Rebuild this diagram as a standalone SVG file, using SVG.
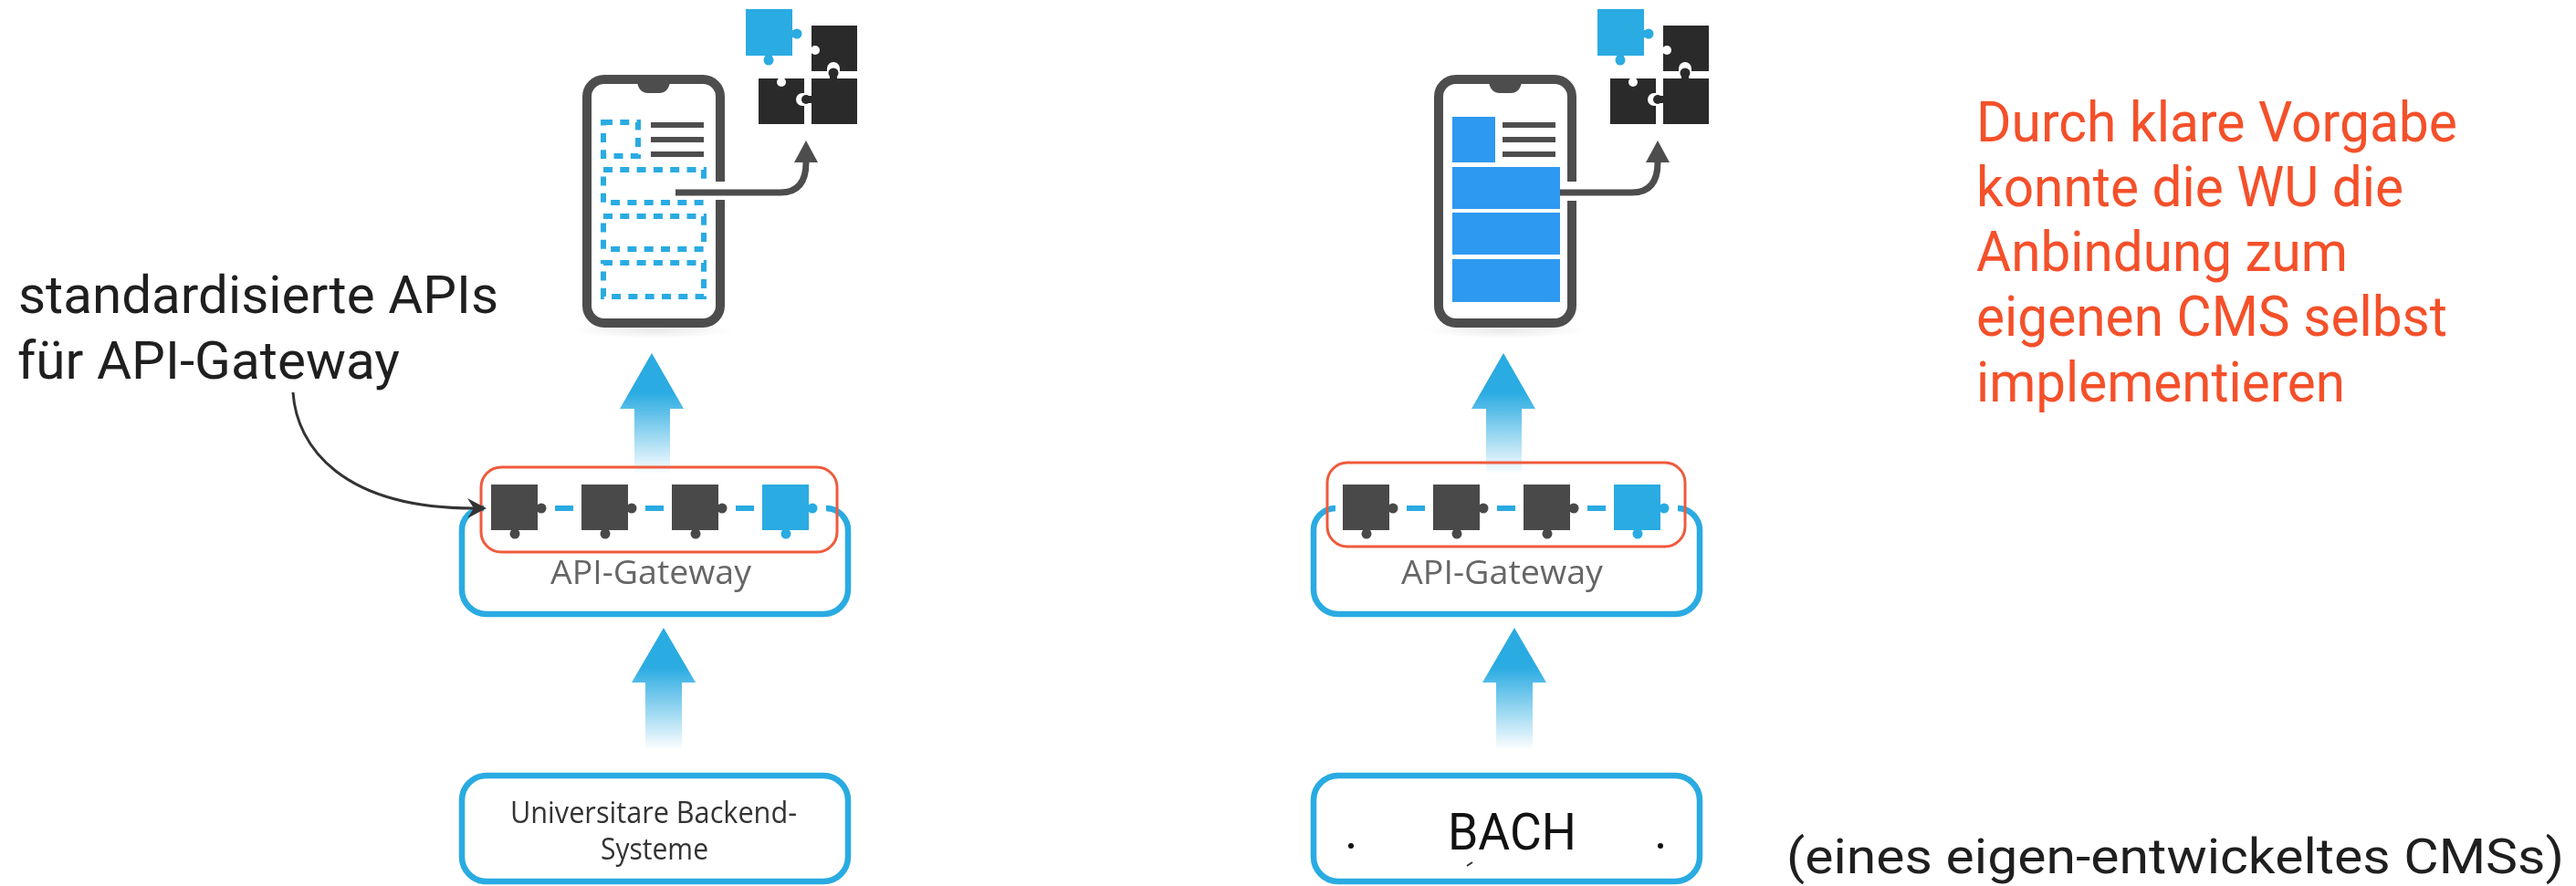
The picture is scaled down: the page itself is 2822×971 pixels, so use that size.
<svg xmlns="http://www.w3.org/2000/svg" width="2822" height="971" viewBox="0 0 2822 971">
<style>
.rb{font-family:"Roboto","Liberation Sans",sans-serif}
.os{font-family:"Open Sans","Liberation Sans",sans-serif}
.blk{fill:#1f1f1f;font-size:58px}
.red{fill:#f4502a;font-size:61px}
.gw{fill:#666;font-size:37px}
.be{fill:#333;font-size:33px}
.box{fill:none;stroke:#29abe2;stroke-width:6.5}
.hl{fill:none;stroke:#ef5a3c;stroke-width:3}
.dash{fill:none;stroke:#29abe2;stroke-width:6;stroke-dasharray:10 8.3}
.solid{fill:#2e99f0}
.dk{fill:#4a4a4a}
.nearblack{fill:#2b2b2b}
.bl{fill:#29abe2}
.wh{fill:#fff}
.lead{fill:none;stroke:#4d4d4d;stroke-width:7}
.call{fill:none;stroke:#333;stroke-width:3}
.soft{filter:url(#soft)}
</style>
<defs>
<filter id="soft" x="-5%" y="-5%" width="110%" height="110%"><feGaussianBlur stdDeviation="0.6"/></filter>
<linearGradient id="fade" x1="0" y1="0" x2="0" y2="1">
<stop offset="0.32" stop-color="#29abe2"/><stop offset="1" stop-color="#29abe2" stop-opacity="0"/>
</linearGradient>
<radialGradient id="shadow"><stop offset="0" stop-color="#e9e9e9"/><stop offset="1" stop-color="#fff"/></radialGradient>
<marker id="headUp" markerUnits="userSpaceOnUse" markerWidth="26" markerHeight="26" refX="0" refY="13" orient="auto"><path d="M0 0L24 13L0 26Z" fill="#4d4d4d"/></marker>
<marker id="headCall" markerUnits="userSpaceOnUse" markerWidth="22" markerHeight="24" refX="7" refY="12" orient="auto"><path d="M0 1L21 12L0 23L7 12Z" fill="#333"/></marker>
<g id="frame">
<ellipse cx="716" cy="362" rx="88" ry="9" fill="url(#shadow)"/>
<rect x="643" y="87" width="146" height="267" rx="19" fill="#fff" stroke="#4d4d4d" stroke-width="10"/>
<path d="M698 90H734Q732 102 722 102H710Q700 102 698 90Z" fill="#4d4d4d"/>
<rect x="713" y="134" width="58" height="6" fill="#4d4d4d"/>
<rect x="713" y="150" width="58" height="6" fill="#4d4d4d"/>
<rect x="713" y="166" width="58" height="6" fill="#4d4d4d"/>
</g>
<g id="puzzle">
<g class="bl"><rect x="817" y="10" width="51" height="51"/><circle cx="873" cy="37" r="5.5"/><rect x="866" y="33" width="6" height="8"/><circle cx="842" cy="66" r="5.5"/><rect x="838" y="60" width="8" height="5"/></g>
<g class="nearblack">
<rect x="889" y="28" width="50" height="50"/>
<rect x="889" y="86" width="50" height="50"/>
<rect x="831" y="86" width="50" height="50"/>
</g>
<g class="wh"><circle cx="893" cy="55" r="5"/><rect x="888" y="52" width="5" height="6"/><circle cx="913" cy="75" r="7"/><rect x="906" y="75" width="14" height="4"/><circle cx="856" cy="90" r="5"/><rect x="853" y="85" width="6" height="5"/><circle cx="879" cy="109" r="7"/><rect x="879" y="102" width="3" height="14"/></g>
<g class="nearblack"><circle cx="913" cy="80" r="5.5"/><rect x="909" y="80" width="8" height="7"/><circle cx="883" cy="109" r="5"/><rect x="883" y="105" width="7" height="8"/></g>
</g>
<g id="pieces">
<g class="dk" id="p3"><rect x="538" y="531" width="51" height="50"/><circle cx="593" cy="557" r="5.5"/><rect x="587" y="553" width="5" height="8"/><circle cx="564" cy="585" r="5.5"/><rect x="560" y="580" width="8" height="5"/></g>
<use href="#p3" x="99"/><use href="#p3" x="198"/>
<g class="bl"><rect x="835" y="531" width="51" height="50"/><circle cx="890" cy="557" r="5.5"/><rect x="884" y="553" width="5" height="8"/><circle cx="861" cy="585" r="5.5"/><rect x="857" y="580" width="8" height="5"/></g>
<path d="M608 557h20M707 557h20M806 557h20" fill="none" stroke="#29abe2" stroke-width="6"/>
<path class="box" d="M530 557A24 24 0 0 0 506 581V646A27 27 0 0 0 533 673H902A27 27 0 0 0 929 646V581A24 24 0 0 0 905 557"/>
</g>
<path id="up" fill="url(#fade)" d="M714 387L749 448H734V520H695V448H679Z"/>
<path id="up2" fill="url(#fade)" d="M727 688L762 748H747V822H707V748H692Z"/>
</defs>

<g id="connectors" class="soft">
<use href="#up"/>
<use href="#up" x="933"/>
<use href="#up2"/>
<use href="#up2" x="932"/>
</g>

<g id="phone-left" class="soft">
<use href="#frame"/>
<rect class="dash" x="661" y="134" width="38" height="37"/>
<rect class="dash" x="661" y="186" width="110" height="36"/>
<rect class="dash" x="661" y="237" width="110" height="36"/>
<rect class="dash" x="661" y="288" width="110" height="37"/>
<rect class="wh" x="760" y="199" width="36" height="20"/>
<path class="lead" d="M740 211H855Q883 211 883 178" marker-end="url(#headUp)"/>
<use href="#puzzle"/>
</g>

<g id="phone-right" class="soft">
<use href="#frame" x="933"/>
<rect class="solid" x="1591" y="128" width="47" height="50"/>
<rect class="solid" x="1591" y="183" width="118" height="46"/>
<rect class="solid" x="1591" y="233" width="118" height="46"/>
<rect class="solid" x="1591" y="284" width="118" height="47"/>
<rect class="wh" x="1709" y="199" width="20" height="21"/>
<path class="lead" d="M1709 211H1788Q1816 211 1816 178" marker-end="url(#headUp)"/>
<use href="#puzzle" x="933"/>
</g>

<g id="gateway-left">
<g class="soft"><use href="#pieces"/></g>
<rect class="hl" x="527" y="512" width="390" height="93" rx="22"/>
<text class="os gw" x="603" y="640" textLength="220" lengthAdjust="spacingAndGlyphs">API-Gateway</text>
</g>

<g id="gateway-right">
<g class="soft"><use href="#pieces" x="933"/></g>
<rect class="hl" x="1454" y="507" width="392" height="92" rx="22"/>
<text class="os gw" x="1535" y="640" textLength="221" lengthAdjust="spacingAndGlyphs">API-Gateway</text>
</g>

<g id="backend-left">
<rect class="box" x="506" y="850" width="423" height="116" rx="27"/>
<text class="os be" x="559" y="902" textLength="314" lengthAdjust="spacingAndGlyphs">Universitare Backend-</text>
<text class="os be" x="658" y="942" textLength="118" lengthAdjust="spacingAndGlyphs">Systeme</text>
</g>

<g id="backend-right">
<rect class="box" x="1439" y="850" width="423" height="116" rx="27"/>
<text class="rb" x="1586" y="931" font-size="55" fill="#111" textLength="141" lengthAdjust="spacingAndGlyphs">BACH</text>
<circle cx="1480" cy="927" r="3" fill="#111"/>
<circle cx="1819" cy="927" r="3" fill="#111"/>
<path d="M1607 949L1613 945" stroke="#333" stroke-width="2" fill="none"/>
</g>

<g id="callout">
<text class="rb blk" x="20" y="343" textLength="526" lengthAdjust="spacingAndGlyphs">standardisierte APIs</text>
<text class="rb blk" x="19" y="415" textLength="419" lengthAdjust="spacingAndGlyphs">für API-Gateway</text>
<path class="call" d="M321 430C325 490 375 557 519 557" marker-end="url(#headCall)"/>
</g>

<g id="note">
<text class="rb red" x="2165" y="155" textLength="527" lengthAdjust="spacingAndGlyphs">Durch klare Vorgabe</text>
<text class="rb red" x="2165" y="226" textLength="468" lengthAdjust="spacingAndGlyphs">konnte die WU die</text>
<text class="rb red" x="2165" y="297" textLength="407" lengthAdjust="spacingAndGlyphs">Anbindung zum</text>
<text class="rb red" x="2165" y="368" textLength="516" lengthAdjust="spacingAndGlyphs">eigenen CMS selbst</text>
<text class="rb red" x="2165" y="440" textLength="404" lengthAdjust="spacingAndGlyphs">implementieren</text>
</g>

<g id="cms-note">
<text class="rb" x="1957" y="957" font-size="54" fill="#1f1f1f" textLength="852" lengthAdjust="spacingAndGlyphs">(eines eigen-entwickeltes CMSs)</text>
</g>
</svg>
